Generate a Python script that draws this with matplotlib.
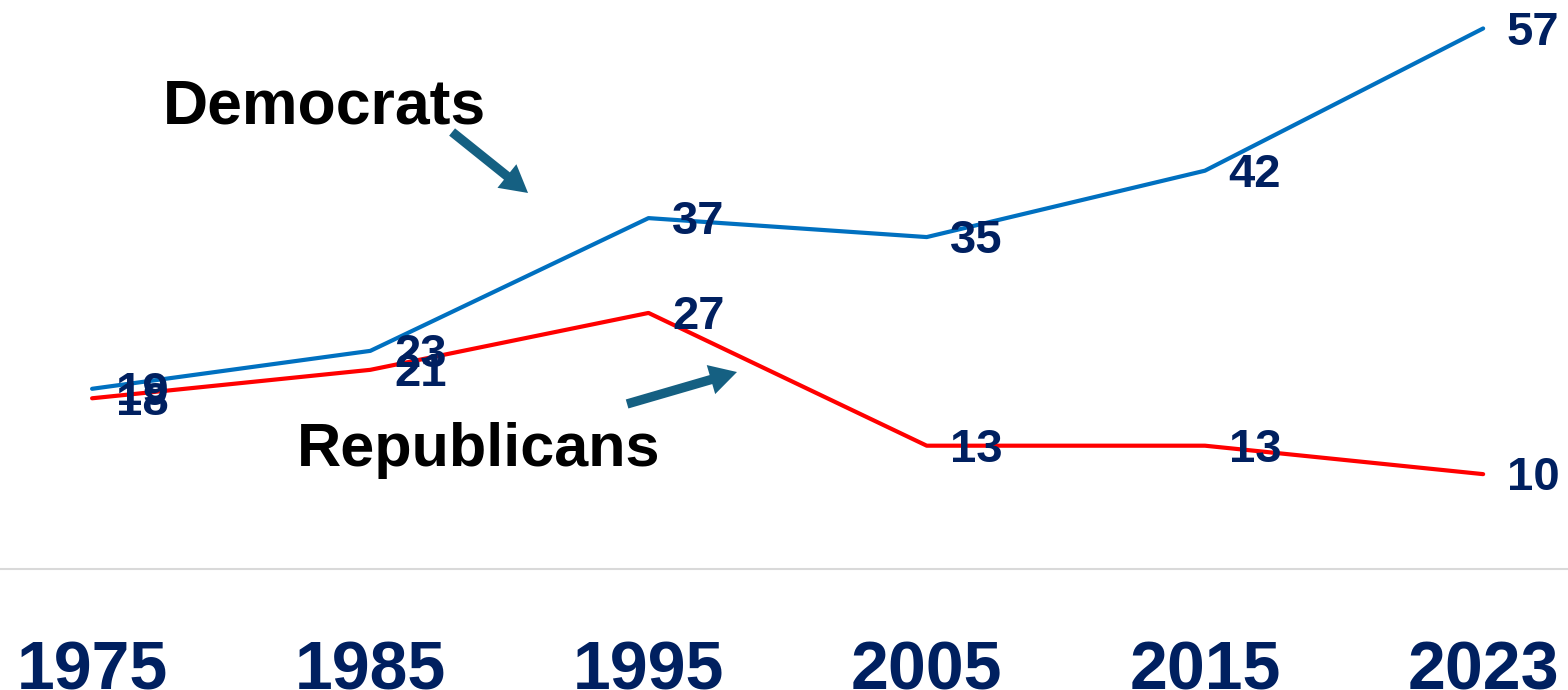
import matplotlib
matplotlib.use("Agg")
import matplotlib.pyplot as plt

years = ["1975", "1985", "1995", "2005", "2015", "2023"]
democrats = [19, 23, 37, 35, 42, 57]
republicans = [18, 21, 27, 13, 13, 10]

navy = "#002060"
plt.rcParams["font.family"] = ["Liberation Sans", "DejaVu Sans"]

fig = plt.figure(figsize=(15.68, 6.9), dpi=100)
ax = fig.add_axes([0, 0.1754, 1, 0.8246])

x = list(range(len(years)))
ax.plot(x, democrats, color="#0070C0", lw=3, solid_capstyle="round", zorder=2)
ax.plot(x, republicans, color="#FF0000", lw=3, solid_capstyle="round", zorder=2)

# value labels just right of each point
for xi, d, r in zip(x, democrats, republicans):
    for v in (d, r):
        ax.annotate(str(v), (xi, v), xytext=(17, 0.5), textcoords="offset points",
                    ha="left", va="center_baseline", fontsize=34, fontweight="bold",
                    color=navy, zorder=3)

ax.set_xlim(-0.331, 5.305)
ax.set_ylim(0, 60)
ax.set_xticks(x)
ax.set_xticklabels(years, fontsize=49, fontweight="bold", color=navy)
ax.tick_params(axis="x", length=0, pad=51)
ax.set_yticks([])
for s in ["top", "left", "right"]:
    ax.spines[s].set_visible(False)
ax.spines["bottom"].set_color("#D9D9D9")
ax.spines["bottom"].set_linewidth(1.5)

# series names with arrows
ax.text(163 / 278.2 - 0.331, (569 - 124) / 9.483, "Democrats", fontsize=45,
        fontweight="bold", color="black", ha="left", va="baseline")
ax.text(297 / 278.2 - 0.331, (569 - 466) / 9.483, "Republicans", fontsize=44,
        fontweight="bold", color="black", ha="left", va="baseline")

arrow_kw = dict(arrowstyle="simple,head_length=1.3,head_width=1.45,tail_width=0.45",
                color="#156082", lw=0, mutation_scale=15, shrinkA=0, shrinkB=0)
ax.annotate("", xy=(1.567, 39.65), xytext=(1.294, 46.08), arrowprops=arrow_kw)
ax.annotate("", xy=(2.318, 20.77), xytext=(1.923, 17.4), arrowprops=arrow_kw)

fig.savefig("out.png", dpi=100)
